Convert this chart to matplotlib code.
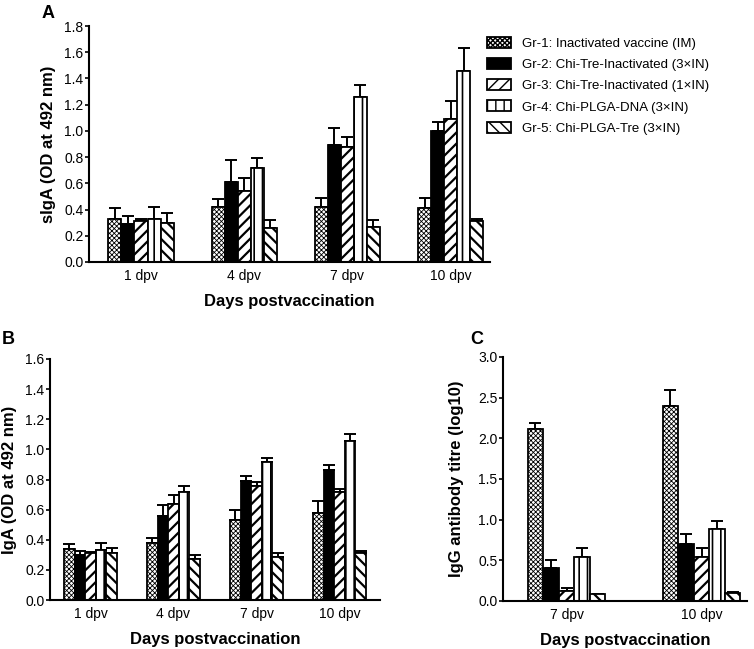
import matplotlib
matplotlib.use('Agg')
import matplotlib.pyplot as plt
import numpy as np

plt.rcParams['font.family'] = ['Liberation Sans', 'DejaVu Sans']

groups = ['Gr-1: Inactivated vaccine (IM)',
          'Gr-2: Chi-Tre-Inactivated (3\u00d7IN)',
          'Gr-3: Chi-Tre-Inactivated (1\u00d7IN)',
          'Gr-4: Chi-PLGA-DNA (3\u00d7IN)',
          'Gr-5: Chi-PLGA-Tre (3\u00d7IN)']

days_ab = ['1 dpv', '4 dpv', '7 dpv', '10 dpv']
days_c = ['7 dpv', '10 dpv']

# panel A: sIgA, rows = groups, cols = days
siga_mean = [[0.33, 0.42, 0.42, 0.41],
             [0.29, 0.61, 0.89, 1.00],
             [0.31, 0.54, 0.88, 1.09],
             [0.33, 0.72, 1.26, 1.46],
             [0.30, 0.26, 0.27, 0.31]]
siga_err = [[0.08, 0.06, 0.07, 0.08],
            [0.06, 0.17, 0.13, 0.07],
            [0.02, 0.10, 0.07, 0.14],
            [0.09, 0.07, 0.09, 0.17],
            [0.07, 0.06, 0.05, 0.02]]

# panel B: serum IgA
iga_mean = [[0.34, 0.38, 0.53, 0.58],
            [0.30, 0.56, 0.79, 0.86],
            [0.31, 0.64, 0.76, 0.72],
            [0.33, 0.72, 0.915, 1.055],
            [0.31, 0.275, 0.285, 0.315]]
iga_err = [[0.035, 0.03, 0.07, 0.075],
           [0.025, 0.07, 0.035, 0.035],
           [0.01, 0.055, 0.025, 0.02],
           [0.05, 0.04, 0.03, 0.05],
           [0.035, 0.025, 0.025, 0.01]]

# panel C: IgG titre (log10)
igg_mean = [[2.11, 2.40],
            [0.40, 0.70],
            [0.12, 0.54],
            [0.54, 0.88],
            [0.09, 0.10]]
igg_err = [[0.08, 0.19],
           [0.10, 0.12],
           [0.04, 0.11],
           [0.11, 0.10],
           [0.0, 0.01]]

styles = [dict(facecolor='white', hatch='xxxxxxx', hlw=0.6),
          dict(facecolor='black', hatch=None, hlw=1.0),
          dict(facecolor='white', hatch='///', hlw=1.6),
          dict(facecolor='white', hatch='||', hlw=1.2),
          dict(facecolor='white', hatch='\\\\\\', hlw=1.6)]


def draw_panel(ax, labels, means, errs, width, ylim, yticks, ylabel, ypad):
    x = np.arange(len(labels))
    n = len(means)
    handles = []
    for i in range(n):
        st = styles[i]
        off = (i - (n - 1) / 2) * width
        with plt.rc_context({'hatch.linewidth': st['hlw']}):
            b = ax.bar(x + off, means[i], width, facecolor=st['facecolor'],
                       edgecolor='black', linewidth=1.3, hatch=st['hatch'],
                       zorder=2)
        ax.errorbar(x + off, means[i], yerr=[np.zeros(len(labels)), errs[i]],
                    fmt='none', ecolor='black', elinewidth=1.4, capsize=4,
                    capthick=1.4, zorder=1)
        handles.append(b)
    ax.set_xticks(x)
    ax.set_xticklabels(labels, fontsize=10)
    ax.tick_params(axis='x', length=0, pad=5)
    ax.tick_params(axis='y', direction='out', length=3, width=1.2, labelsize=10, pad=1)
    ax.set_ylim(*ylim)
    ax.set_yticks(yticks)
    ax.set_yticklabels([f'{t:.1f}' for t in yticks])
    for s in ['top', 'right']:
        ax.spines[s].set_visible(False)
    for s in ['left', 'bottom']:
        ax.spines[s].set_linewidth(1.5)
    ax.set_xlabel('Days postvaccination', fontsize=12, fontweight='bold', labelpad=8)
    ax.set_ylabel(ylabel, fontsize=12, fontweight='bold', labelpad=ypad)
    return handles


fig = plt.figure(figsize=(7.54, 6.49), dpi=100)

ax_a = fig.add_axes([89 / 754, 1 - 262 / 649, (490 - 89) / 754, (262 - 26) / 649])
ax_b = fig.add_axes([50 / 754, 1 - 600 / 649, (380 - 50) / 754, (600 - 359) / 649])
ax_c = fig.add_axes([503 / 754, 1 - 601 / 649, (747 - 503) / 754, (601 - 357) / 649])

h = draw_panel(ax_a, days_ab, siga_mean, siga_err, 0.126, (0, 1.8),
               np.arange(0, 1.81, 0.2), 'sIgA (OD at 492 nm)', 6)
ax_a.set_xlim((89 - 141) / 103.2, (490 - 141) / 103.2)

draw_panel(ax_b, days_ab, iga_mean, iga_err, 0.128, (0, 1.6),
           np.arange(0, 1.61, 0.2), 'IgA (OD at 492 nm)', 5.5)
ax_b.set_xlim((50 - 90.5) / 83, (380 - 90.5) / 83)

draw_panel(ax_c, days_c, igg_mean, igg_err, 0.115, (0, 3.0),
           np.arange(0, 3.01, 0.5), 'IgG antibody titre (log10)', 10)
ax_c.set_xlim((503 - 566.5) / 135, (747 - 566.5) / 135)

fig.legend(h, groups, loc='upper left', bbox_to_anchor=(475 / 754, 1 - 25 / 649),
           frameon=False, fontsize=9.5, handlelength=1.8, handleheight=0.9,
           labelspacing=0.62, handletextpad=0.85)

fig.text(42 / 754, 1 - 14 / 649, 'A', fontsize=13, fontweight='bold', va='center')
fig.text(2 / 754, 1 - 339 / 649, 'B', fontsize=13, fontweight='bold', va='center')
fig.text(470 / 754, 1 - 339 / 649, 'C', fontsize=13, fontweight='bold', va='center')

fig.savefig('out.png', dpi=100)
